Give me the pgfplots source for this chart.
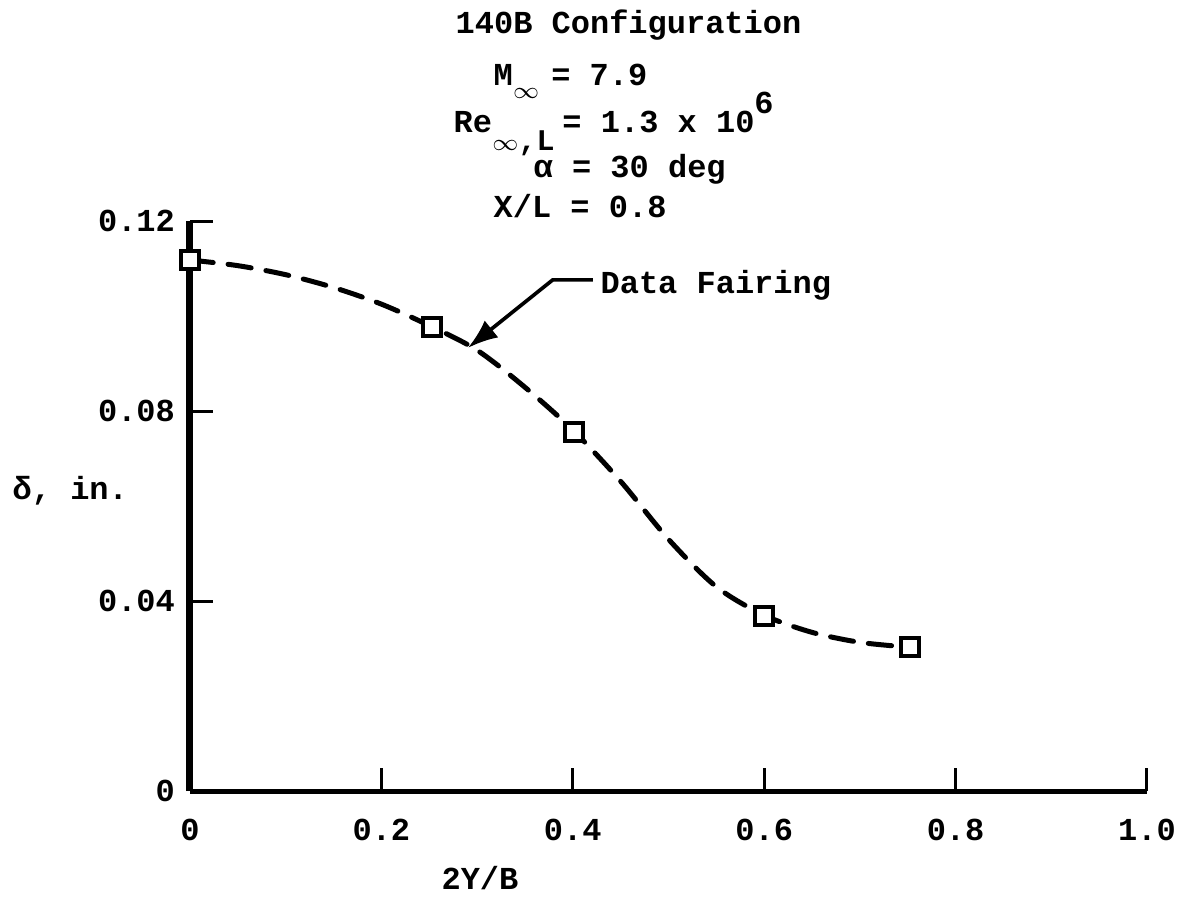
\documentclass[border=0pt]{standalone}
\usepackage{fontspec}
\setmainfont{Liberation Mono}
\usepackage{pgfplots}
\pgfplotsset{compat=1.18}
\usetikzlibrary{arrows.meta}
\pgfplotstableread{
x y
0.000 0.1118
0.253 0.0977
0.401 0.0756
0.600 0.0368
0.752 0.0303
}\datapts
\pgfplotstableread{
x y
0.000 0.1118
0.050 0.1106
0.100 0.1087
0.150 0.1060
0.200 0.1025
0.250 0.0980
0.300 0.0928
0.350 0.0850
0.400 0.0760
0.450 0.0652
0.500 0.0530
0.550 0.0430
0.600 0.0370
0.650 0.0334
0.700 0.0313
0.750 0.0303
}\fairing
\newcommand{\subinf}{{\fontsize{7}{8}\selectfont$\infty$}}
\begin{document}
\begin{tikzpicture}[font=\fontsize{9.6}{11}\selectfont\bfseries]
\path[use as bounding box] (-57pt,-31.5pt) rectangle (297.6pt,237.3pt);
\begin{axis}[
 at={(0pt,0pt)}, anchor=south west,
 scale only axis, width=287.1pt, height=171pt,
 xmin=0, xmax=1, ymin=0, ymax=0.12,
 clip=false,
 axis x line*=bottom, axis y line*=left,
 every outer x axis line/.append style={-},
 every outer y axis line/.append style={-},
 x axis line style={line width=1.5pt,-},
 y axis line style={line width=2.1pt,-},
 xtick={0,0.2,0.4,0.6,0.8,1.0},
 xticklabels={0,0.2,0.4,0.6,0.8,1.0},
 ytick={0,0.04,0.08,0.12},
 yticklabels={0,0.04,0.08,0.12},
 tick align=inside,
 major tick length=7pt,
 tick style={line width=0.9pt,black},
 xticklabel style={yshift=-5pt},
 yticklabel style={xshift=-1pt},
]
\addplot[black, line width=1.5pt, dash pattern=on 7pt off 4.5pt, line cap=round, smooth] table[x=x,y=y] {\fairing};
\addplot[only marks, mark=square*, mark size=2.7pt, mark options={fill=white, draw=black, line width=1.2pt, solid}] table[x=x,y=y] {\datapts};
\draw[line width=1.1pt, -{Latex[length=9pt,width=6.5pt]}] (axis cs:0.421,0.1076) -- (axis cs:0.379,0.1076) -- (axis cs:0.2905,0.0933);
\node[anchor=base west, inner sep=0pt] at (axis cs:0.4284,0.1048) {Data Fairing};
\end{axis}
\node[anchor=base west, inner sep=0pt] at (79.5pt,227.4pt) {140B Configuration};
\node[anchor=base west, inner sep=0pt] at (90.9pt,211.8pt) {M\makebox[0.6em][l]{\raisebox{-0.8ex}{\subinf}} = 7.9};
\node[anchor=base west, inner sep=0pt] at (78.9pt,197.7pt) {Re\makebox[1.6em][l]{\raisebox{-1.1ex}{\subinf{\small,L}}} = 1.3 x 10\raisebox{1.1ex}{6}};
\node[anchor=base west, inner sep=0pt] at (102.9pt,184.2pt) {α = 30 deg};
\node[anchor=base west, inner sep=0pt] at (90.9pt,172.2pt) {X/L = 0.8};
\node[anchor=base west, inner sep=0pt] at (-53.4pt,87.6pt) {δ, in.};
\node[anchor=base, inner sep=0pt] at (87pt,-29.4pt) {2Y/B};
\end{tikzpicture}
\end{document}
